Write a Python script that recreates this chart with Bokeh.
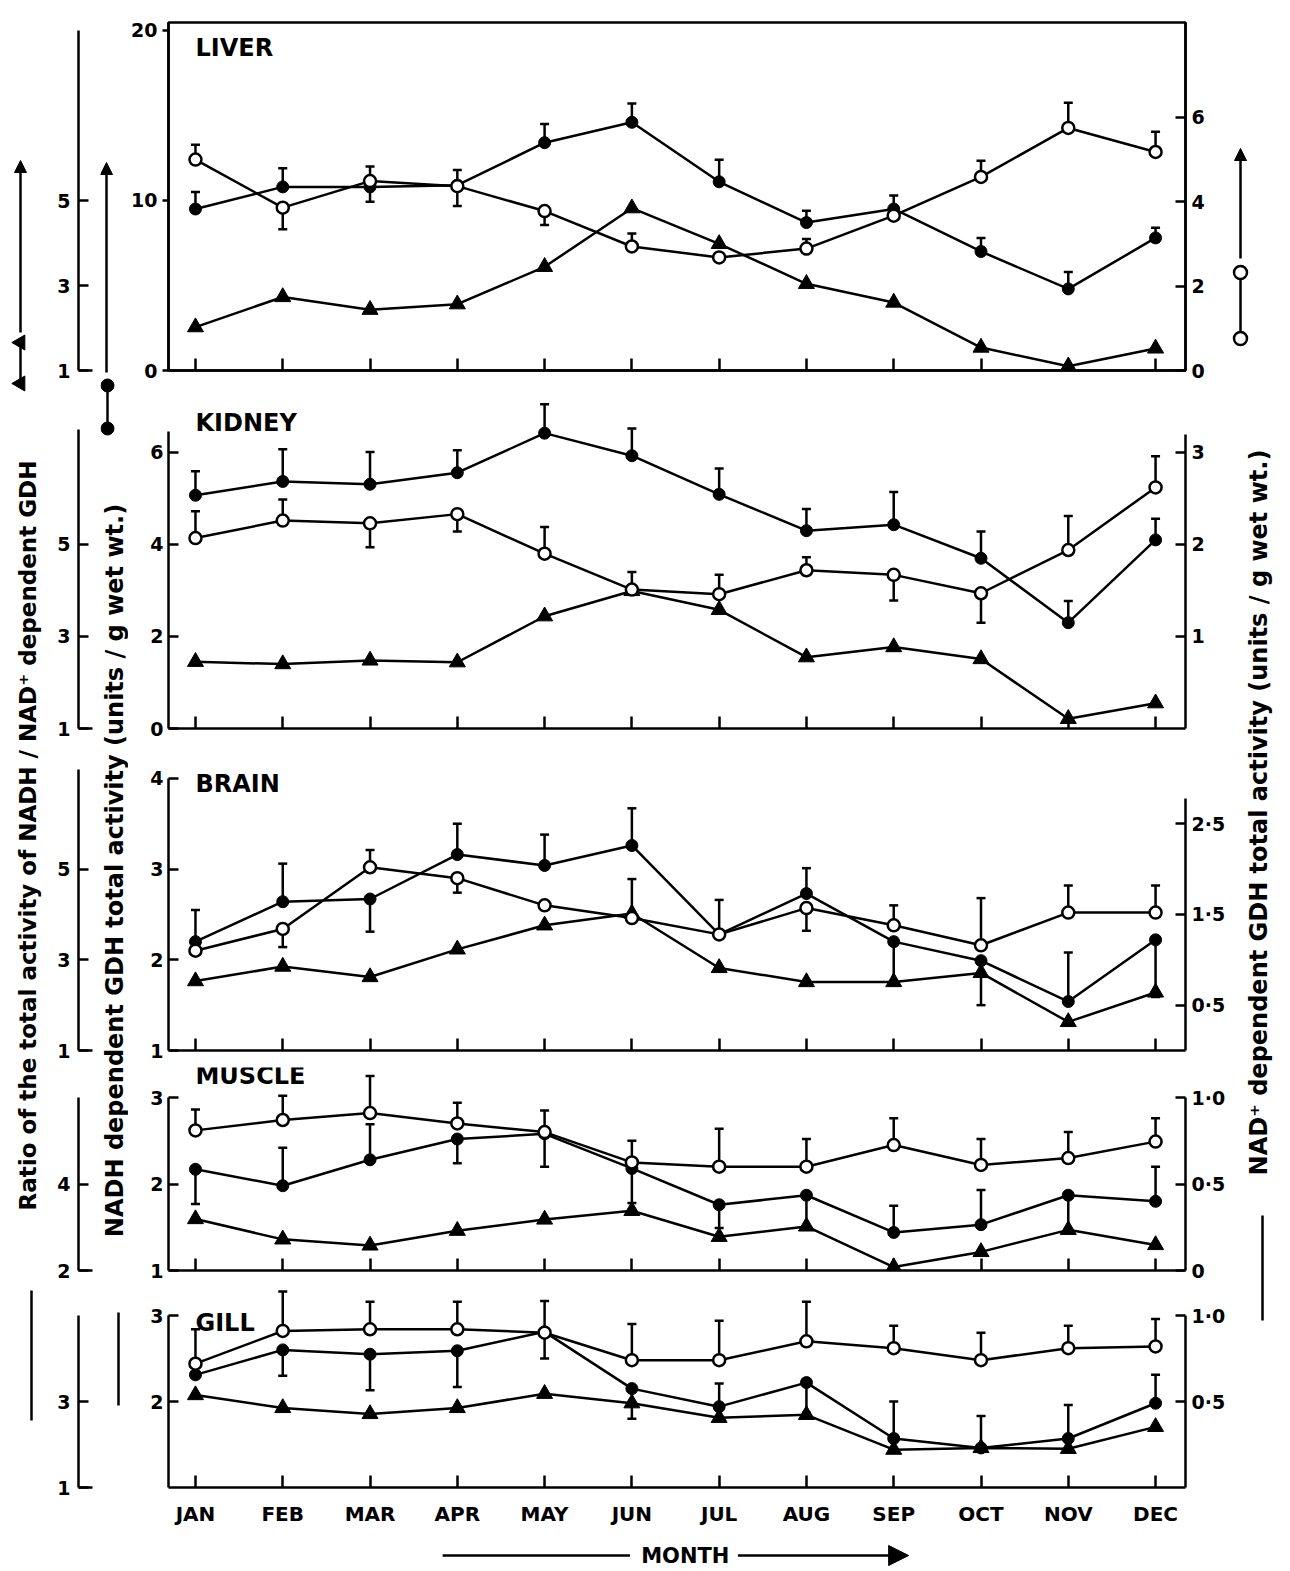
import math
from bokeh.plotting import figure
from bokeh.models import Range1d, LinearAxis, FixedTicker, Label, Arrow, NormalHead
from bokeh.layouts import row, column
from bokeh.embed import file_html
from bokeh.resources import INLINE
from bokeh.core.properties import value

# ---------------- data ----------------
months = [1, 2, 3, 4, 5, 6, 7, 8, 9, 10, 11, 12]
month_names = ["JAN", "FEB", "MAR", "APR", "MAY", "JUN", "JUL", "AUG", "SEP", "OCT", "NOV", "DEC"]

# LIVER  (NADH GDH: left axis 0-20, NAD+ GDH: right axis, ratio: outer axis)
liver_nadh = [9.5, 10.8, 10.8, 10.9, 13.4, 14.6, 11.1, 8.7, 9.5, 7.0, 4.8, 7.8]
liver_nadh_hi = [10.5, 11.9, 12.0, 11.8, 14.5, 15.7, 12.4, 9.4, 10.3, 7.8, 5.8, 8.4]
liver_nadh_lo = [None, None, None, None, None, None, None, None, None, None, None, None]
liver_nad = [5.0, 3.86, 4.49, 4.37, 3.78, 2.94, 2.68, 2.89, 3.67, 4.59, 5.75, 5.18]
liver_nad_hi = [5.35, None, None, None, None, 3.25, None, 3.12, None, 4.97, 6.35, 5.66]
liver_nad_lo = [None, 3.35, 4.0, 3.9, 3.45, None, None, None, None, None, None, None]
liver_ratio = [2.02, 2.73, 2.43, 2.56, 3.44, 4.82, 3.98, 3.04, 2.6, 1.54, 1.1, 1.52]

# KIDNEY
kidney_nadh = [5.07, 5.37, 5.31, 5.56, 6.42, 5.93, 5.09, 4.3, 4.43, 3.7, 2.3, 4.1]
kidney_nadh_hi = [5.59, 6.07, 6.01, 6.05, 7.05, 6.52, 5.65, 4.77, 5.14, 4.28, 2.77, 4.56]
kidney_nadh_lo = [None, None, None, None, None, None, None, None, None, None, None, None]
kidney_nad = [2.07, 2.26, 2.23, 2.33, 1.9, 1.51, 1.46, 1.72, 1.67, 1.47, 1.94, 2.62]
kidney_nad_hi = [2.36, 2.49, None, None, 2.19, 1.7, 1.67, 1.86, None, None, 2.31, 2.96]
kidney_nad_lo = [None, None, 1.97, 2.14, None, None, None, None, 1.39, 1.15, None, None]
kidney_ratio = [2.45, 2.4, 2.48, 2.44, 3.44, 3.99, 3.58, 2.55, 2.77, 2.51, 1.21, 1.55]

# BRAIN
brain_nadh = [2.2, 2.64, 2.67, 3.16, 3.04, 3.26, 2.28, 2.73, 2.2, 1.99, 1.54, 2.22]
brain_nadh_hi = [2.55, 3.06, None, 3.5, 3.38, 3.67, None, 3.01, None, None, 2.08, None]
brain_nadh_lo = [None, None, 2.31, None, None, None, None, None, 1.74, 1.5, None, 1.59]
brain_nad = [1.1, 1.34, 2.02, 1.9, 1.6, 1.46, 1.28, 1.57, 1.38, 1.16, 1.52, 1.52]
brain_nad_hi = [None, None, 2.21, None, None, 1.89, 1.66, None, 1.6, 1.68, 1.82, 1.82]
brain_nad_lo = [None, 1.14, None, 1.74, None, None, None, 1.32, None, None, None, None]
brain_ratio = [2.53, 2.85, 2.62, 3.23, 3.76, 4.02, 2.82, 2.51, 2.51, 2.71, 1.63, 2.28]

# MUSCLE
muscle_nadh = [2.17, 1.98, 2.28, 2.52, 2.58, 2.18, 1.76, 1.87, 1.44, 1.53, 1.87, 1.8]
muscle_nadh_hi = [None, 2.42, 2.69, None, 2.85, None, None, None, 1.75, 1.93, None, 2.2]
muscle_nadh_lo = [1.77, None, None, 2.24, 2.2, 1.78, 1.49, 1.5, None, None, 1.45, None]
muscle_nad = [0.81, 0.87, 0.91, 0.85, 0.80, 0.625, 0.60, 0.60, 0.725, 0.61, 0.65, 0.745]
muscle_nad_hi = [0.93, 1.01, 1.125, 0.97, None, 0.75, 0.82, 0.76, 0.88, 0.76, 0.80, 0.88]
muscle_nad_lo = [None, None, None, None, None, None, None, None, None, None, None, None]
muscle_ratio = [3.19, 2.72, 2.58, 2.92, 3.18, 3.38, 2.78, 3.02, 2.08, 2.43, 2.94, 2.59]

# GILL
gill_nadh = [2.31, 2.6, 2.55, 2.59, 2.81, 2.15, 1.94, 2.22, 1.57, 1.46, 1.57, 1.98]
gill_nadh_hi = [None, None, None, None, 3.17, None, 2.21, None, 2.0, 1.83, 1.96, 2.31]
gill_nadh_lo = [None, 2.3, 2.13, 2.17, 2.5, 1.8, None, 1.87, None, None, None, None]
gill_nad = [0.72, 0.91, 0.92, 0.92, 0.90, 0.74, 0.74, 0.85, 0.81, 0.74, 0.81, 0.82]
gill_nad_hi = [0.92, 1.14, 1.08, 1.08, None, 0.95, 0.97, 1.08, 0.94, 0.90, 0.94, 0.98]
gill_nad_lo = [None, None, None, None, None, None, None, None, None, None, None, None]
gill_ratio = [3.15, 2.85, 2.71, 2.85, 3.18, 2.96, 2.62, 2.69, 1.88, 1.92, 1.9, 2.41]

# axis tick labels
liver_nadh_ticks, liver_nadh_labels = [0, 10, 20], ["0", "10", "20"]
liver_nad_ticks, liver_nad_labels = [0, 2, 4, 6], ["0", "2", "4", "6"]
liver_ratio_ticks, liver_ratio_labels = [1, 3, 5], ["1", "3", "5"]
kidney_nadh_ticks, kidney_nadh_labels = [0, 2, 4, 6], ["0", "2", "4", "6"]
kidney_nad_ticks, kidney_nad_labels = [1, 2, 3], ["1", "2", "3"]
kidney_ratio_ticks, kidney_ratio_labels = [1, 3, 5], ["1", "3", "5"]
brain_nadh_ticks, brain_nadh_labels = [1, 2, 3, 4], ["1", "2", "3", "4"]
brain_nad_ticks, brain_nad_labels = [0.5, 1.5, 2.5], ["0·5", "1·5", "2·5"]
brain_ratio_ticks, brain_ratio_labels = [1, 3, 5], ["1", "3", "5"]
muscle_nadh_ticks, muscle_nadh_labels = [1, 2, 3], ["1", "2", "3"]
muscle_nad_ticks, muscle_nad_labels = [0, 0.5, 1.0], ["0", "0·5", "1·0"]
muscle_ratio_ticks, muscle_ratio_labels = [2, 4], ["2", "4"]
gill_nadh_ticks, gill_nadh_labels = [2, 3], ["2", "3"]
gill_nad_ticks, gill_nad_labels = [0.5, 1.0], ["0·5", "1·0"]
gill_ratio_ticks, gill_ratio_labels = [1, 3], ["1", "3"]

ratio_title = "Ratio of the total activity of NADH / NAD⁺ dependent GDH"
nadh_title = "NADH dependent GDH total activity (units / g wet wt.)"
nad_title = "NAD⁺ dependent GDH total activity (units / g wet wt.)"
xaxis_title = "MONTH"

# ---------------- layout / style ----------------
FONT = "DejaVu Sans"
LW = 2.5
PAGE_H = 1571
W0, W1, W2, W3, W4 = 48, 52, 28, 1102, 60
RATIO_BL = 30
MAIN_BL, MAIN_BR = 37, 45
X_RANGE = (0.691, 12.343)

panels = [
    dict(name="LIVER", height=395, top=22, bottom=25, box=True, label_px=47,
         nadh_range=(0, 20.47), ratio_range=(1, 9.19), nad_range=(0, 8.25),
         nadh_bounds=None, nad_bounds=None, ratio_bounds=(1, 9.0), nadh_in=0, nadh_out=6,
         data=(liver_nadh, liver_nadh_hi, liver_nadh_lo, liver_nad, liver_nad_hi, liver_nad_lo, liver_ratio),
         ticks=(liver_nadh_ticks, liver_nadh_labels, liver_nad_ticks, liver_nad_labels,
                liver_ratio_ticks, liver_ratio_labels)),
    dict(name="KIDNEY", height=350, top=5, bottom=17, box=False, label_px=27,
         nadh_range=(0, 7.13), ratio_range=(1, 8.13), nad_range=(0, 3.565),
         nadh_bounds=(0, 6.45), nad_bounds=(0, 3.2), ratio_bounds=(1, 7.5), nadh_in=10, nadh_out=0,
         data=(kidney_nadh, kidney_nadh_hi, kidney_nadh_lo, kidney_nad, kidney_nad_hi, kidney_nad_lo, kidney_ratio),
         ticks=(kidney_nadh_ticks, kidney_nadh_labels, kidney_nad_ticks, kidney_nad_labels,
                kidney_ratio_ticks, kidney_ratio_labels)),
    dict(name="BRAIN", height=317, top=10, bottom=12, box=False, label_px=38,
         nadh_range=(1, 4.252), ratio_range=(1, 7.504), nad_range=(0, 3.252),
         nadh_bounds=(1, 4), nad_bounds=(0, 2.78), ratio_bounds=(1, 7.2), nadh_in=10, nadh_out=0,
         data=(brain_nadh, brain_nadh_hi, brain_nadh_lo, brain_nad, brain_nad_hi, brain_nad_lo, brain_ratio),
         ticks=(brain_nadh_ticks, brain_nadh_labels, brain_nad_ticks, brain_nad_labels,
                brain_ratio_ticks, brain_ratio_labels)),
    dict(name="MUSCLE", height=223, top=5, bottom=15, box=False, label_px=13,
         nadh_range=(1, 3.347), ratio_range=(2, 6.694), nad_range=(0, 1.1735),
         nadh_bounds=(1, 3), nad_bounds=(0, 1.0), ratio_bounds=(2, 6.0), nadh_in=10, nadh_out=0,
         data=(muscle_nadh, muscle_nadh_hi, muscle_nadh_lo, muscle_nad, muscle_nad_hi, muscle_nad_lo, muscle_ratio),
         ticks=(muscle_nadh_ticks, muscle_nadh_labels, muscle_nad_ticks, muscle_nad_labels,
                muscle_ratio_ticks, muscle_ratio_labels)),
    dict(name="GILL", height=250, top=3, bottom=48, box=False, label_px=37,
         nadh_range=(1, 3.314), ratio_range=(1, 5.628), nad_range=(0, 1.157),
         nadh_bounds=(1, 3), nad_bounds=(0, 1.0), ratio_bounds=(1, 5.0), nadh_in=10, nadh_out=0,
         data=(gill_nadh, gill_nadh_hi, gill_nadh_lo, gill_nad, gill_nad_hi, gill_nad_lo, gill_ratio),
         ticks=(gill_nadh_ticks, gill_nadh_labels, gill_nad_ticks, gill_nad_labels,
                gill_ratio_ticks, gill_ratio_labels)),
]


def style_axis(ax, ticks, labels, t_in, t_out, standoff, size="19px"):
    ax.ticker = FixedTicker(ticks=ticks, minor_ticks=[])
    ax.major_label_overrides = {t: l for t, l in zip(ticks, labels)}
    ax.major_tick_in = t_in
    ax.major_tick_out = t_out
    ax.minor_tick_in = 0
    ax.minor_tick_out = 0
    ax.major_label_standoff = standoff
    ax.major_label_text_font = FONT
    ax.major_label_text_font_style = "bold"
    ax.major_label_text_font_size = size
    ax.major_label_text_color = "black"
    ax.axis_line_width = LW
    ax.axis_line_color = "black"
    ax.major_tick_line_width = LW
    ax.major_tick_line_color = "black"


def error_bars(p, ys, ends, rng):
    if ends is None:
        return
    xs, y0, y1 = [], [], []
    for m, y, e in zip(months, ys, ends):
        if e is not None:
            xs.append(m)
            y0.append(y)
            y1.append(e)
    if not xs:
        return
    p.segment(x0=xs, y0=y0, x1=xs, y1=y1, line_width=LW, line_color="black", y_range_name=rng)
    p.scatter(xs, y1, marker="dash", size=9, line_width=LW, line_color="black", y_range_name=rng)


def make_panel(cfg, last):
    H, top, bot = cfg["height"], cfg["top"], cfg["bottom"]
    nadh, nadh_hi, nadh_lo, nad, nad_hi, nad_lo, ratio = cfg["data"]
    nt, nl, dt, dl, rt, rl = cfg["ticks"]
    nadh_rng = Range1d(*cfg["nadh_range"])
    ratio_rng = Range1d(*cfg["ratio_range"])
    nad_rng = Range1d(*cfg["nad_range"])

    p = figure(width=W3, height=H, x_range=Range1d(*X_RANGE), y_range=nadh_rng,
               min_border_left=MAIN_BL, min_border_right=MAIN_BR,
               min_border_top=top, min_border_bottom=bot,
               toolbar_location=None, output_backend="svg")
    p.outline_line_color = "black" if cfg["box"] else None
    p.outline_line_width = LW
    p.extra_y_ranges = {"ratio": ratio_rng, "nad": nad_rng}
    p.xgrid.visible = False
    p.ygrid.visible = False

    ya = p.yaxis[0]
    style_axis(ya, nt, nl, cfg["nadh_in"], cfg["nadh_out"], 5)
    if cfg["nadh_bounds"]:
        ya.bounds = cfg["nadh_bounds"]

    ra = LinearAxis(y_range_name="nad")
    style_axis(ra, dt, dl, 10, 0, 6)
    if cfg["nad_bounds"]:
        ra.bounds = cfg["nad_bounds"]
    p.add_layout(ra, "right")

    xa = p.xaxis[0]
    if last:
        style_axis(xa, months, month_names, 12, 0, 14, size="20px")
    else:
        style_axis(xa, months, ["" for _ in months], 12, 0, 0, size="0px")

    # lines
    p.line(months, ratio, line_width=LW, line_color="black", y_range_name="ratio")
    p.line(months, nadh, line_width=LW, line_color="black")
    p.line(months, nad, line_width=LW, line_color="black", y_range_name="nad")
    # error bars
    error_bars(p, nadh, nadh_hi, "default")
    error_bars(p, nadh, nadh_lo, "default")
    error_bars(p, nad, nad_hi, "nad")
    error_bars(p, nad, nad_lo, "nad")
    # markers
    p.scatter(months, ratio, marker="triangle", size=16, fill_color="black", line_color="black",
              y_range_name="ratio")
    p.scatter(months, nadh, marker="circle", size=12, fill_color="black", line_color="black")
    p.scatter(months, nad, marker="circle", size=12, fill_color="white", line_color="black",
              line_width=LW, y_range_name="nad")

    # panel name
    fh = H - top - bot
    y0, y1 = cfg["nadh_range"]
    ly = y1 - (cfg["label_px"] - top) / fh * (y1 - y0)
    p.add_layout(Label(x=1.0, y=ly, text=cfg["name"], text_font=FONT, text_font_style="bold",
                       text_font_size="24px", text_color="black", text_baseline="middle",
                       text_align="left"))

    # outer ratio axis (separate narrow plot sharing the ratio range)
    r = figure(width=W1, height=H, x_range=Range1d(0, 1), y_range=ratio_rng,
               min_border_left=RATIO_BL, min_border_right=8, min_border_top=top, min_border_bottom=bot,
               toolbar_location=None, output_backend="svg")
    r.outline_line_color = None
    r.xgrid.visible = False
    r.ygrid.visible = False
    style_axis(r.yaxis[0], rt, rl, 10, 0, 8)
    r.yaxis[0].bounds = cfg["ratio_bounds"]
    rx = r.xaxis[0]
    rx.ticker = FixedTicker(ticks=[], minor_ticks=[])
    rx.major_label_text_font_size = "0px"
    rx.major_label_standoff = 0
    rx.major_tick_in = 0
    rx.major_tick_out = 0
    rx.minor_tick_in = 0
    rx.minor_tick_out = 0
    rx.axis_line_width = LW
    return p, r


def deco(w, h=PAGE_H):
    d = figure(width=w, height=h, x_range=Range1d(0, w), y_range=Range1d(h, 0),
               min_border=0, min_border_left=0, min_border_right=0, min_border_top=0,
               min_border_bottom=0, x_axis_location=None, y_axis_location=None,
               toolbar_location=None, output_backend="svg")
    d.outline_line_color = None
    d.grid.visible = False
    return d


def vtext(d, x, y, txt, size="22px"):
    d.text(x=[x], y=[y], text=[txt], angle=math.pi / 2, text_align="center",
           text_baseline="middle", text_font=value(FONT), text_font_style="bold",
           text_font_size=size, text_color="black")


main_figs, ratio_figs = [], []
for i, cfg in enumerate(panels):
    p, r = make_panel(cfg, i == len(panels) - 1)
    main_figs.append(p)
    ratio_figs.append(r)

# left-most strip: ratio title and triangle key
c0 = deco(W0)
vtext(c0, 27, 835, ratio_title, size="23px")
c0.add_layout(Arrow(end=NormalHead(size=12, fill_color="black", line_color="black"),
                    x_start=20, y_start=332, x_end=20, y_end=160, line_width=LW))
c0.segment(x0=[20], y0=[342], x1=[20], y1=[383], line_width=LW, line_color="black")
c0.scatter([20, 20], [342, 383], marker="triangle", angle=math.pi / 2, size=15,
           fill_color="black", line_color="black")
c0.segment(x0=[31], y0=[1290], x1=[31], y1=[1420], line_width=LW, line_color="black")

# second strip: NADH title and filled-circle key
c2 = deco(W2)
vtext(c2, 14, 870, nadh_title, size="24px")
c2.add_layout(Arrow(end=NormalHead(size=12, fill_color="black", line_color="black"),
                    x_start=6, y_start=372, x_end=6, y_end=162, line_width=LW))
c2.segment(x0=[7], y0=[385], x1=[7], y1=[428], line_width=LW, line_color="black")
c2.scatter([7, 7], [385, 428], marker="circle", size=13, fill_color="black", line_color="black")
c2.segment(x0=[18], y0=[1312], x1=[18], y1=[1405], line_width=LW, line_color="black")

# right strip: NAD+ title and open-circle key
c4 = deco(W4)
vtext(c4, 28, 812, nad_title, size="24px")
c4.add_layout(Arrow(end=NormalHead(size=12, fill_color="black", line_color="black"),
                    x_start=10, y_start=258, x_end=10, y_end=148, line_width=LW))
c4.segment(x0=[10], y0=[272], x1=[10], y1=[338], line_width=LW, line_color="black")
c4.scatter([10, 10], [272, 338], marker="circle", size=13, fill_color="white", line_color="black",
           line_width=LW)
c4.segment(x0=[32], y0=[1215], x1=[32], y1=[1320], line_width=LW, line_color="black")

# footer: MONTH arrow
FH = PAGE_H - sum(c["height"] for c in panels)
foot = deco(W3, FH)
foot.segment(x0=[297], y0=[20], x1=[500], y1=[20], line_width=LW, line_color="black")
foot.add_layout(Arrow(end=NormalHead(size=20, fill_color="black", line_color="black"),
                      x_start=617, y_start=20, x_end=802, y_end=20, line_width=LW))
foot.text(x=[560], y=[20], text=[xaxis_title], text_align="center", text_baseline="middle",
          text_font=value(FONT), text_font_style="bold", text_font_size="21px", text_color="black")

layout = row(c0, column(*ratio_figs), c2, column(*(main_figs + [foot])), c4)

open("out.html", "w").write(file_html(layout, INLINE))
